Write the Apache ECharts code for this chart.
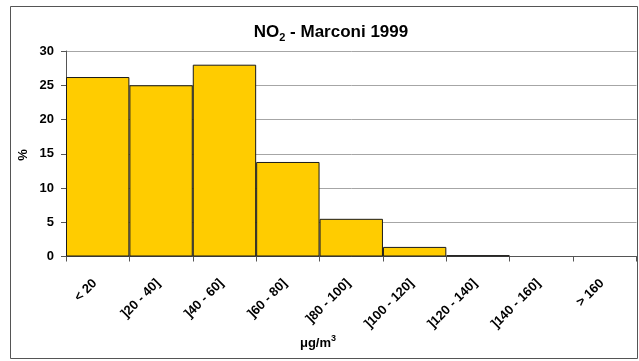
<!DOCTYPE html>
<html>
<head>
<meta charset="utf-8">
<script src="https://cdn.jsdelivr.net/npm/echarts@6/dist/echarts.min.js"></script>
<style>
html,body{margin:0;padding:0;background:#fff;}
#c{width:639px;height:361px;}
</style>
</head>
<body>
<div id="c"></div>
<script>
const categories = ['< 20', ']20 - 40]', ']40 - 60]', ']60 - 80]', ']80 - 100]', ']100 - 120]', ']120 - 140]', ']140 - 160]', '> 160'];
const values = [26.2, 25.0, 28.0, 13.8, 5.5, 1.4, 0.2, 0, 0];
const yTicks = [0, 5, 10, 15, 20, 25, 30];

const FONT = 'Arial';
const chart = echarts.init(document.getElementById('c'), null, {renderer: 'canvas'});
chart.setOption({
  animation: false,
  backgroundColor: '#ffffff',
  grid: {left: 66, right: 2.5, top: 51, bottom: 104.5, containLabel: false},
  title: {
    text: '{a|NO}{s|2}{a| - Marconi 1999}',
    left: 326, top: 16, textAlign: 'center',
    textStyle: {
      rich: {
        a: {fontFamily: FONT, fontWeight: 'bold', fontSize: 17, color: '#000', lineHeight: 22},
        s: {fontFamily: FONT, fontWeight: 'bold', fontSize: 11, color: '#000', lineHeight: 11, verticalAlign: 'bottom'}
      }
    }
  },
  xAxis: {
    type: 'category',
    data: categories,
    boundaryGap: true,
    axisLine: {lineStyle: {color: '#555', width: 1}},
    axisTick: {show: true, alignWithLabel: false, length: 5, lineStyle: {color: '#555'}},
    axisLabel: {
      rotate: 45, interval: 0, margin: 22, padding: [0, 4, 0, 0],
      fontFamily: FONT, fontWeight: 'bold', fontSize: 13, color: '#000'
    },
    splitLine: {show: false}
  },
  yAxis: {
    type: 'value',
    min: yTicks[0], max: yTicks[yTicks.length - 1], interval: 5,
    axisLine: {show: true, lineStyle: {color: '#555', width: 1}},
    axisTick: {show: true, length: 5, lineStyle: {color: '#555'}},
    axisLabel: {margin: 12, fontFamily: FONT, fontWeight: 'bold', fontSize: 13, color: '#000'},
    splitLine: {show: true, lineStyle: {color: '#a6a6a6', width: 1}}
  },
  series: [{
    type: 'bar',
    data: values.map(v => v === 0 ? {value: v, itemStyle: {borderWidth: 0}} : v),
    barCategoryGap: '0%',
    itemStyle: {color: '#FFCC00', borderColor: '#1a1a1a', borderWidth: 1}
  }],
  graphic: [
    {type: 'rect', shape: {x: 10.5, y: 6.5, width: 627, height: 352}, style: {fill: 'none', stroke: '#555', lineWidth: 1}, z: 100},
    {type: 'text', x: 23, y: 155, rotation: Math.PI / 2,
      style: {text: '%', font: 'bold 13px Arial', fill: '#000', textAlign: 'center', textVerticalAlign: 'middle'}},
    {type: 'text', x: 318, y: 343,
      style: {
        text: '{a|μg/m}{p|3}', textAlign: 'center', textVerticalAlign: 'middle',
        rich: {
          a: {fontFamily: FONT, fontWeight: 'bold', fontSize: 13, fill: '#000', lineHeight: 18},
          p: {fontFamily: FONT, fontWeight: 'bold', fontSize: 9, fill: '#000', lineHeight: 9, verticalAlign: 'top'}
        }
      }}
  ]
});
</script>
</body>
</html>
